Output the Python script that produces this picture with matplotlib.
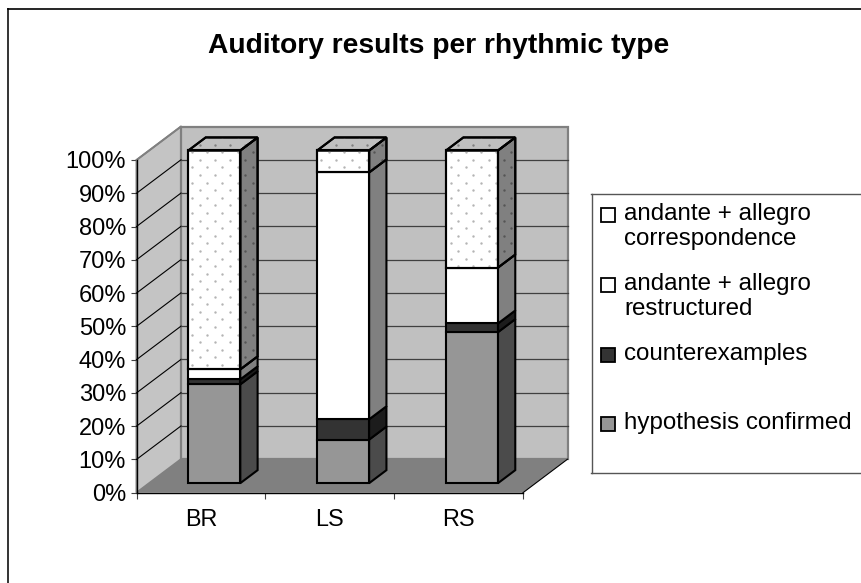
#!/usr/bin/env python3
import numpy as np
import matplotlib
matplotlib.use('Agg')
import matplotlib.pyplot as plt
from matplotlib.patches import Polygon, Rectangle

categories = ['BR', 'LS', 'RS']
hypothesis = [29.7, 13.1, 45.4]
counterex = [1.5, 6.1, 2.6]
restructured = [3.0, 74.2, 16.8]
correspondence = [65.8, 6.6, 35.2]
yticks = list(range(0, 101, 10))
legend_labels = ['andante + allegro\ncorrespondence', 'andante + allegro\nrestructured',
                 'counterexamples', 'hypothesis confirmed']

W, H = 862, 583
plt.rcParams['font.family'] = ['Liberation Sans', 'DejaVu Sans']

fig = plt.figure(figsize=(W / 100, H / 100), dpi=100)
ax = fig.add_axes([136.5 / W, 1 - 492.7 / H, (523 - 136.5) / W, (492.7 - 160) / H])
ax.set_xlim(0, 3)
ax.set_ylim(0, 100)
ax.patch.set_visible(False)

# depth of the fake 3d box, in data units
DX = 44.5 / 128.8
DY = 33.5 / 3.327
BAR_W = 0.403


def proj(x, y, d):
    return (x + d * DX, y + d * DY)


def poly(pts, fc, ec='none', lw=0.0, z=1):
    p = Polygon(pts, closed=True, facecolor=fc, edgecolor=ec, linewidth=lw,
                zorder=z, clip_on=False, joinstyle='miter')
    ax.add_patch(p)
    return p


def stipple(patch, color, z):
    # staggered dots, clipped on the face
    xs = np.arange(-0.1, 3.6, 15.2 / 128.8)
    ys = np.arange(-5, 125, 7.6 / 3.327)
    for i, y in enumerate(ys):
        off = 0.5 * 15.2 / 128.8 if i % 2 else 0
        sc = ax.scatter(xs + off, np.full_like(xs, y), s=3.0, color=color,
                        linewidths=0, zorder=z, clip_on=True)
        sc.set_clip_box(None)
        sc.set_clip_path(patch)


# walls and floor
poly([proj(0, 0, 0), proj(0, 0, 1), proj(0, 100, 1), proj(0, 100, 0)], '#c4c4c4', '#808080', 1.4, 1)
poly([proj(0, 0, 1), proj(3, 0, 1), proj(3, 100, 1), proj(0, 100, 1)], '#c0c0c0', '#808080', 1.6, 1)
poly([proj(0, 0, 0), proj(3, 0, 0), proj(3, 0, 1), proj(0, 0, 1)], '#808080', 'none', 0, 1)

for t in yticks[1:]:
    x0, y0 = proj(0, t, 0)
    x1, y1 = proj(0, t, 1)
    x2, y2 = proj(3, t, 1)
    if t < 100:
        ax.plot([x0, x1], [y0, y1], color='#000000', lw=0.8, zorder=2, clip_on=False)
        ax.plot([x1, x2], [y1, y2], color='#404040', lw=0.9, zorder=2, clip_on=False)
    else:
        ax.plot([x0, x1], [y0, y1], color='#808080', lw=1.2, zorder=2, clip_on=False)
x0, y0 = proj(3, 0, 0)
x1, y1 = proj(3, 0, 1)
ax.plot([x0, x1], [y0, y1], color='#000000', lw=0.8, zorder=2, clip_on=False)

# bars
series = [hypothesis, counterex, restructured, correspondence]
front_cols = ['#969696', '#333333', '#ffffff', '#ffffff']
side_cols = ['#4b4b4b', '#1c1c1c', '#808080', '#808080']
D0, D1 = 0.285, 0.673
for i in range(len(categories)):
    left = i + 0.5 + 0.006 - BAR_W / 2
    right = left + BAR_W
    base = 0
    z = 3 + i
    for k, vals in enumerate(series):
        top = base + vals[i]
        f = poly([proj(left, base, D0), proj(right, base, D0), proj(right, top, D0), proj(left, top, D0)],
                 front_cols[k], '#000000', 1.5, z)
        s = poly([proj(right, base, D0), proj(right, base, D1), proj(right, top, D1), proj(right, top, D0)],
                 side_cols[k], '#000000', 1.5, z)
        if k == 3:
            stipple(f, '#b4b4b4', z + 0.1)
            stipple(s, '#555555', z + 0.1)
            t = poly([proj(left, top, D0), proj(right, top, D0), proj(right, top, D1), proj(left, top, D1)],
                     '#c0c0c0', '#000000', 1.5, z)
            stipple(t, '#808080', z + 0.1)
            # dots sit over the outlines otherwise
            for face in (f, s, t):
                poly(face.get_xy(), 'none', '#000000', 1.5, z + 0.2)
        base = top

# axes
for sp in ('top', 'right'):
    ax.spines[sp].set_visible(False)
ax.spines['left'].set_linewidth(1.0)
ax.spines['bottom'].set_linewidth(1.0)
ax.set_yticks(yticks)
ax.set_yticklabels(['%d%%' % t for t in yticks])
ax.set_xticks(range(len(categories) + 1))
ax.set_xticklabels([])
ax.set_xticks(np.arange(len(categories)) + 0.5, minor=True)
ax.set_xticklabels(categories, minor=True)
ax.tick_params(axis='y', length=4.3, width=0.8, color='#404040', labelsize=17, pad=3.2)
ax.tick_params(axis='x', which='major', length=4.5, width=0.8, color='#404040')
ax.tick_params(axis='x', which='minor', length=0, labelsize=16.8, pad=11)


def px(x, y):
    return x / W, 1 - y / H


# chart frame, open at the right and bottom like the source
fig.add_artist(plt.Line2D([8.5 / W, 8.5 / W], [0, 1 - 8.5 / H], color='#333333', lw=1.4))
fig.add_artist(plt.Line2D([8.5 / W, 1], [1 - 8.5 / H, 1 - 8.5 / H], color='#000000', lw=1.2))

fig.text(*px(439, 46), 'Auditory results per rhythmic type', ha='center', va='center',
         fontsize=20.3, fontweight='bold')

# legend
fig.add_artist(plt.Line2D([591.5 / W, 591.5 / W], [1 - 194 / H, 1 - 473 / H], color='#555555', lw=1.0))
fig.add_artist(plt.Line2D([591 / W, 1], [1 - 194 / H, 1 - 194 / H], color='#555555', lw=1.0))
fig.add_artist(plt.Line2D([591 / W, 1], [1 - 473 / H, 1 - 473 / H], color='#555555', lw=1.0))
swatch_y = [215, 285, 355, 424]
swatch_cols = ['#ffffff', '#ffffff', '#333333', '#969696']
for y, c, lab in zip(swatch_y, swatch_cols, legend_labels):
    x0, y0 = px(601, y + 7)
    fig.add_artist(Rectangle((x0, y0), 14 / W, 14 / H, transform=fig.transFigure, facecolor=c,
                             edgecolor='#000000', linewidth=1.3))
    fig.text(*px(624, y - 12), lab, ha='left', va='top', fontsize=17.4, linespacing=1.2)

fig.savefig('out.png', dpi=100)
